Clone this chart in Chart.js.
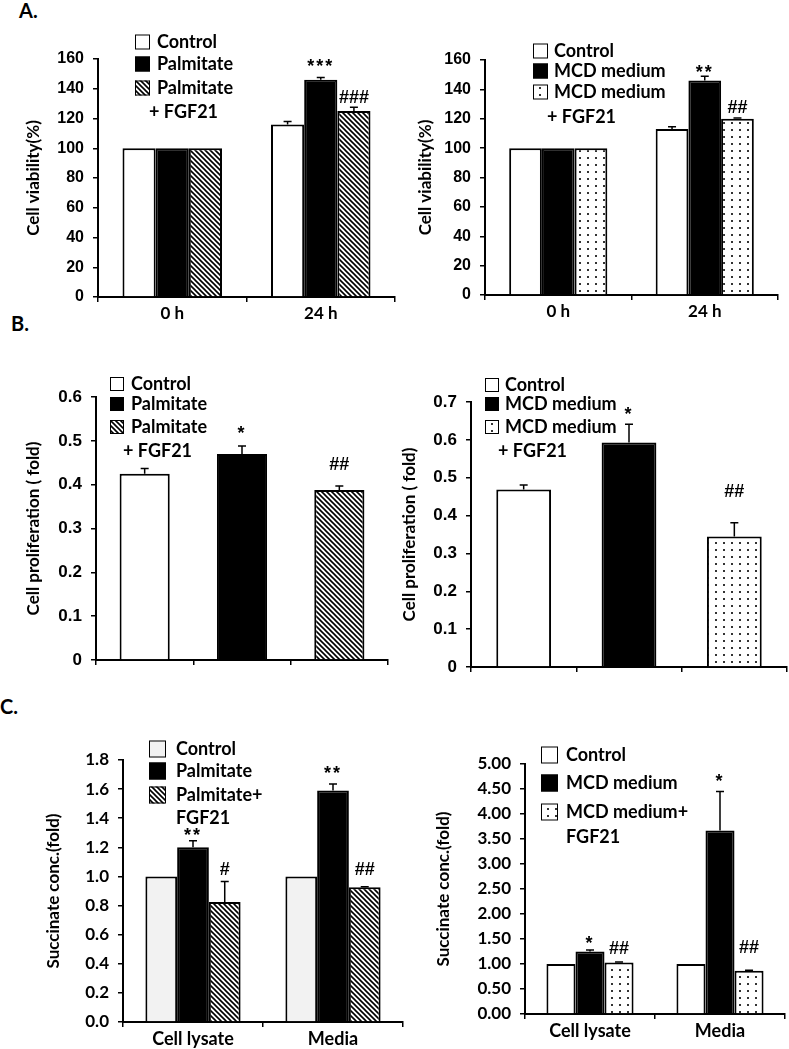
<!DOCTYPE html>
<html>
<head>
<style>
  body { margin: 0; background: #fff; }
  canvas { position: absolute; left: 0; top: 0; }
  .tag { position: absolute; font: bold 20px Lato; color: #000; }
</style>
</head>
<body>

<div class="tag" style="left:19px; top:-2px">A.</div>
<div class="tag" style="left:11px; top:311px">B.</div>
<div class="tag" style="left:0px; top:694px">C.</div>

<canvas id="a1" width="789" height="1049"></canvas>
<canvas id="a2" width="789" height="1049"></canvas>
<canvas id="b1" width="789" height="1049"></canvas>
<canvas id="b2" width="789" height="1049"></canvas>
<canvas id="c1" width="789" height="1049"></canvas>
<canvas id="c2" width="789" height="1049"></canvas>

<script src="https://cdn.jsdelivr.net/npm/chart.js"></script>

<script>
// categories + legends
const timeLabels = ['0 h', '24 h'];
const sampleLabels = ['Cell lysate', 'Media'];
const blankLabels = ['', '', ''];

const palmLegend = ['Control', 'Palmitate', 'Palmitate\n+ FGF21'];
const mcdLegend = ['Control', 'MCD medium', 'MCD medium\n+ FGF21'];
const palmLegendC = ['Control', 'Palmitate', 'Palmitate+\nFGF21'];
const mcdLegendC = ['Control', 'MCD medium', 'MCD medium+\nFGF21'];

// A. cell viability (%)
const viabCtrlP = [100, 116];
const viabPalm = [100, 146];
const viabPalmFgf = [100, 125];
const viabCtrlPErr = [0, 2];
const viabPalmErr = [0, 1.5];
const viabPalmFgfErr = [0, 2.5];
const viabPalmSig = ['', '***'];
const viabPalmFgfSig = ['', '###'];

const viabCtrlM = [100, 113];
const viabMcd = [100, 146];
const viabMcdFgf = [100, 120];
const viabCtrlMErr = [0, 1.5];
const viabMcdErr = [0, 3];
const viabMcdFgfErr = [0, 0.5];
const viabMcdSig = ['', '**'];
const viabMcdFgfSig = ['', '##'];

// B. cell proliferation (fold) - control, treated, treated + FGF21
const prolifPalm = [0.425, 0.47, 0.388];
const prolifPalmErr = [0.012, 0.018, 0.009];
const prolifPalmSig = ['', '*', '##'];
const prolifMcd = [0.469, 0.593, 0.345];
const prolifMcdErr = [0.012, 0.048, 0.036];
const prolifMcdSig = ['', '*', '##'];

// C. succinate conc. (fold)
const succCtrlP = [1.0, 1.0];
const succPalm = [1.2, 1.59];
const succPalmFgf = [0.825, 0.925];
const succCtrlPErr = [0, 0];
const succPalmErr = [0.045, 0.045];
const succPalmFgfErr = [0.14, 0.005];
const succPalmSig = ['**', '**'];
const succPalmFgfSig = ['#', '##'];

const succCtrlM = [1.0, 1.0];
const succMcd = [1.25, 3.67];
const succMcdFgf = [1.03, 0.865];
const succCtrlMErr = [0, 0];
const succMcdErr = [0.03, 0.78];
const succMcdFgfErr = [0.01, 0.01];
const succMcdSig = ['*', '*'];
const succMcdFgfSig = ['##', '##'];
</script>

<script>
const PAGE_W = 789, PAGE_H = 1049, X_H = 26;

function hatch() {
  const t = 5, c = document.createElement('canvas');
  c.width = t; c.height = t;
  const g = c.getContext('2d');
  g.fillStyle = '#fff'; g.fillRect(0, 0, t, t);
  g.strokeStyle = '#000'; g.lineWidth = 1.6;
  g.beginPath();
  g.moveTo(-1, -1); g.lineTo(t + 1, t + 1);
  g.moveTo(t - 1, -1); g.lineTo(t + 1, 1);
  g.moveTo(-1, t - 1); g.lineTo(1, t + 1);
  g.stroke();
  return g.createPattern(c, 'repeat');
}

function dots() {
  const c = document.createElement('canvas');
  c.width = 8; c.height = 7;
  const g = c.getContext('2d');
  g.fillStyle = '#fff'; g.fillRect(0, 0, 8, 7);
  g.fillStyle = '#333'; g.fillRect(3, 3, 2, 2);
  return g.createPattern(c, 'repeat');
}

const HATCH = hatch();
const DOTS = dots();

const errorBars = {
  id: 'errorBars',
  afterDatasetsDraw(chart) {
    const ctx = chart.ctx, y = chart.scales.y;
    ctx.save();
    ctx.strokeStyle = '#000';
    ctx.lineWidth = 1.5;
    chart.data.datasets.forEach((ds, i) => {
      chart.getDatasetMeta(i).data.forEach((bar, j) => {
        const e = ds.errors[j];
        if (!e) return;
        const top = y.getPixelForValue(ds.data[j] + e);
        ctx.beginPath();
        ctx.moveTo(bar.x, bar.y); ctx.lineTo(bar.x, top);
        ctx.moveTo(bar.x - 4, top); ctx.lineTo(bar.x + 4, top);
        ctx.stroke();
      });
    });
    ctx.restore();
  }
};

// significance marks, glyph centre placed `lift` px above the error bar top
const sigMarks = {
  id: 'sigMarks',
  afterDatasetsDraw(chart, args, opts) {
    const ctx = chart.ctx, y = chart.scales.y;
    ctx.save();
    ctx.font = 'bold 18px "Liberation Sans"';
    ctx.textAlign = 'center';
    ctx.textBaseline = 'alphabetic';
    ctx.fillStyle = '#000';
    chart.data.datasets.forEach((ds, i) => {
      chart.getDatasetMeta(i).data.forEach((bar, j) => {
        const m = ds.marks && ds.marks[j];
        if (!m) return;
        ctx.letterSpacing = m[0] === '*' ? '2px' : '0px';
        const tm = ctx.measureText(m);
        const mid = (tm.actualBoundingBoxAscent - tm.actualBoundingBoxDescent) / 2;
        const top = y.getPixelForValue(ds.data[j] + (ds.errors[j] || 0));
        ctx.fillText(m, bar.x, top - opts.lift[i][j] + mid);
      });
    });
    ctx.restore();
  }
};

const boxLegend = {
  id: 'boxLegend',
  afterDraw(chart, args, o) {
    const ctx = chart.ctx, ds = chart.data.datasets;
    const fills = ds.length > 1 ? ds.map(d => d.backgroundColor) : ds[0].backgroundColor;
    ctx.save();
    ctx.font = 'bold ' + o.size + 'px Lato';
    ctx.textBaseline = 'middle';
    o.labels.forEach((txt, i) => {
      const y = o.rows[i], lines = txt.split('\n');
      ctx.fillStyle = fills[i];
      ctx.fillRect(o.x, y - o.box / 2, o.box, o.box);
      ctx.strokeStyle = '#000';
      ctx.lineWidth = 1;
      ctx.strokeRect(o.x + 0.5, y - o.box / 2 + 0.5, o.box - 1, o.box - 1);
      ctx.fillStyle = '#000';
      ctx.fillText(lines[0], o.textX, y);
      if (lines[1]) ctx.fillText(lines[1], o.contX, o.contY);
    });
    ctx.restore();
  }
};

function panel(id, o) {
  const [l, t, r, b] = o.area;
  const yW = l - o.titleX + 13;
  const pad = { left: l - yW, top: t, right: PAGE_W - r, bottom: PAGE_H - b - X_H };
  new Chart(document.getElementById(id), {
    type: 'bar',
    data: { labels: o.labels, datasets: o.datasets },
    options: {
      responsive: false,
      animation: false,
      layout: { padding: pad },
      datasets: { bar: { categoryPercentage: o.catPct, barPercentage: 1, borderColor: '#000', borderWidth: 2 } },
      plugins: {
        legend: { display: false },
        tooltip: { enabled: false },
        boxLegend: o.legend,
        sigMarks: { lift: o.lift }
      },
      scales: {
        x: {
          grid: { drawOnChartArea: false, tickLength: 5, color: '#000', lineWidth: 1.5 },
          border: { color: '#000', width: 2 },
          ticks: { color: '#000', font: o.xFont, padding: 1, maxRotation: 0, autoSkip: false },
          afterFit: s => { s.height = X_H; }
        },
        y: {
          min: 0, max: o.yMax,
          grid: { drawOnChartArea: false, tickLength: 5, color: '#000', lineWidth: 1.5 },
          border: { color: '#000', width: 2 },
          ticks: { stepSize: o.yStep, color: '#000', font: o.tickFont, padding: 9, callback: o.fmt },
          title: { display: true, text: o.yTitle, color: '#000', font: { family: 'Lato', weight: 'bold', size: 17, lineHeight: 1.2 }, padding: { top: 3, bottom: 0 } },
          afterFit: s => { s.width = yW; }
        }
      }
    },
    plugins: [errorBars, sigMarks, boxLegend]
  });
}

const arialB = s => ({ family: 'Liberation Sans', weight: 'bold', size: s });
const latoB = s => ({ family: 'Lato', weight: 'bold', size: s });
const plain = v => String(Math.round(v * 10) / 10);

function bars(label, data, errors, marks, fill) {
  return { label, data, errors, marks, backgroundColor: fill };
}

panel('a1', {
  area: [98, 59, 395, 297], titleX: 33, catPct: 0.67,
  yMax: 160, yStep: 20, fmt: plain, tickFont: arialB(16), xFont: latoB(17), yTitle: 'Cell viability(%)',
  labels: timeLabels,
  datasets: [
    bars(palmLegend[0], viabCtrlP, viabCtrlPErr, null, '#fff'),
    bars(palmLegend[1], viabPalm, viabPalmErr, viabPalmSig, '#000'),
    bars(palmLegend[2], viabPalmFgf, viabPalmFgfErr, viabPalmFgfSig, HATCH)
  ],
  lift: [[0, 0], [0, 15], [0, 11]],
  legend: { labels: palmLegend, x: 135, box: 15, size: 18, rows: [42, 64, 88], textX: 157, contX: 149, contY: 112 }
});

panel('a2', {
  area: [485, 60, 778, 295], titleX: 425, catPct: 0.67,
  yMax: 160, yStep: 20, fmt: plain, tickFont: arialB(16), xFont: latoB(17), yTitle: 'Cell viability(%)',
  labels: timeLabels,
  datasets: [
    bars(mcdLegend[0], viabCtrlM, viabCtrlMErr, null, '#fff'),
    bars(mcdLegend[1], viabMcd, viabMcdErr, viabMcdSig, '#000'),
    bars(mcdLegend[2], viabMcdFgf, viabMcdFgfErr, viabMcdFgfSig, DOTS)
  ],
  lift: [[0, 0], [0, 8], [0, 12]],
  legend: { labels: mcdLegend, x: 533, box: 15, size: 18, rows: [51, 71, 92], textX: 554, contX: 547, contY: 117 }
});

panel('b1', {
  area: [96, 397, 388, 660], titleX: 33, catPct: 0.515,
  yMax: 0.6, yStep: 0.1, fmt: plain, tickFont: arialB(17), xFont: latoB(17), yTitle: 'Cell proliferation ( fold)',
  labels: blankLabels,
  datasets: [bars('Cell proliferation', prolifPalm, prolifPalmErr, prolifPalmSig, ['#fff', '#000', HATCH])],
  lift: [[0, 17, 22]],
  legend: { labels: palmLegend, x: 110, box: 14, size: 18, rows: [384, 404, 427], textX: 131, contX: 123, contY: 451 }
});

panel('b2', {
  area: [471, 402, 787, 667], titleX: 409, catPct: 0.52,
  yMax: 0.7, yStep: 0.1, fmt: plain, tickFont: arialB(17), xFont: latoB(17), yTitle: 'Cell proliferation ( fold)',
  labels: blankLabels,
  datasets: [bars('Cell proliferation', prolifMcd, prolifMcdErr, prolifMcdSig, ['#fff', '#000', DOTS])],
  lift: [[0, 14, 32]],
  legend: { labels: mcdLegend, x: 485, box: 14, size: 18, rows: [385, 404, 427], textX: 505, contX: 498, contY: 451 }
});

panel('c1', {
  area: [123, 760, 403, 1022], titleX: 53, catPct: 0.68,
  yMax: 1.8, yStep: 0.2, fmt: v => v.toFixed(1), tickFont: latoB(17), xFont: latoB(18), yTitle: 'Succinate conc.(fold)',
  labels: sampleLabels,
  datasets: [
    bars(palmLegendC[0], succCtrlP, succCtrlPErr, null, '#f2f2f2'),
    bars(palmLegendC[1], succPalm, succPalmErr, succPalmSig, '#000'),
    bars(palmLegendC[2], succPalmFgf, succPalmFgfErr, succPalmFgfSig, HATCH)
  ],
  lift: [[0, 0], [9, 15], [13, 18]],
  legend: { labels: palmLegendC, x: 149, box: 17, size: 18, rows: [749, 771, 795], textX: 176, contX: 176, contY: 818 }
});

panel('c2', {
  area: [525, 764, 785, 1014], titleX: 443, catPct: 0.67,
  yMax: 5, yStep: 0.5, fmt: v => v.toFixed(2), tickFont: latoB(17), xFont: latoB(18), yTitle: 'Succinate conc.(fold)',
  labels: sampleLabels,
  datasets: [
    bars(mcdLegendC[0], succCtrlM, succCtrlMErr, null, '#fff'),
    bars(mcdLegendC[1], succMcd, succMcdErr, succMcdSig, '#000'),
    bars(mcdLegendC[2], succMcdFgf, succMcdFgfErr, succMcdFgfSig, DOTS)
  ],
  lift: [[0, 0], [11, 14], [15, 24]],
  legend: { labels: mcdLegendC, x: 541, box: 17, size: 18, rows: [755, 783, 812], textX: 566, contX: 566, contY: 837 }
});
</script>

</body>
</html>
